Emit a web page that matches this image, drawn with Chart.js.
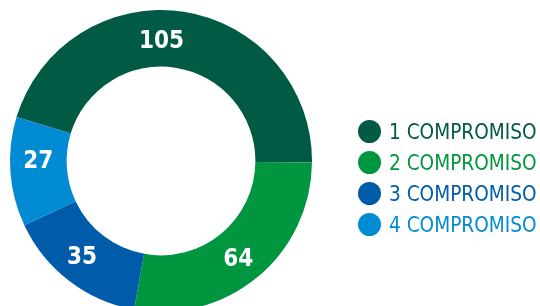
<!DOCTYPE html>
<html>
<head>
<meta charset="utf-8">
<script src="https://cdn.jsdelivr.net/npm/chart.js@4.4.1/dist/chart.umd.min.js"></script>
<style>
  html, body { margin: 0; padding: 0; background: #fff; overflow: hidden; width: 540px; height: 306px; }
  #wrap { position: relative; width: 540px; height: 340px; }
  #legend { position: absolute; left: 358px; top: 119px; margin: 0; padding: 0; list-style: none;
            font-family: "DejaVu Sans Condensed", "Liberation Sans Narrow", Roboto, sans-serif; font-size: 20.6px; }
  #legend li { height: 31px; line-height: 27px; white-space: nowrap; }
  #legend span.dot { display: inline-block; width: 23px; height: 23px; border-radius: 50%; vertical-align: -4px; margin-right: 8px; }
</style>
</head>
<body>
<div id="wrap">
  <canvas id="donut" width="540" height="340"></canvas>
  <ul id="legend"></ul>
</div>
<script>
var labels = ["1 COMPROMISO", "2 COMPROMISO", "3 COMPROMISO", "4 COMPROMISO"];
var values = [105, 64, 35, 27];
var colors = ["#005a44", "#009640", "#005ca9", "#008bd2"];

// value labels drawn on the ring, small angle nudges to match the original placement
var labelNudge = [-8.5, 0.6, 2.5, 5];

var ringLabels = {
	id: "ringLabels",
	afterDatasetsDraw: function(chart) {
		var ctx = chart.ctx;
		var meta = chart.getDatasetMeta(0);
		ctx.save();
		ctx.fillStyle = "#fff";
		ctx.font = "bold 24px 'DejaVu Sans Condensed', 'Liberation Sans Narrow', Roboto, sans-serif";
		ctx.textAlign = "center";
		ctx.textBaseline = "middle";
		meta.data.forEach(function(arc, i) {
			var p = arc.getProps(["x", "y", "startAngle", "endAngle", "innerRadius", "outerRadius"], true);
			var a = (p.startAngle + p.endAngle) / 2 + labelNudge[i] * Math.PI / 180;
			var r = (p.innerRadius + p.outerRadius) / 2;
			ctx.fillText(values[i], p.x + Math.cos(a) * r, p.y + Math.sin(a) * r + 3);
		});
		ctx.restore();
	}
};

new Chart(document.getElementById("donut"), {
	type: "doughnut",
	data: {
		labels: labels,
		datasets: [{
			data: values,
			backgroundColor: colors,
			borderWidth: 0
		}]
	},
	options: {
		responsive: false,
		animation: false,
		rotation: -73.1,
		cutout: "62.5%",
		layout: { padding: { top: 10, left: 10, right: 228, bottom: 28 } },
		plugins: {
			legend: { display: false },
			tooltip: { enabled: false }
		}
	},
	plugins: [ringLabels]
});

var ul = document.getElementById("legend");
labels.forEach(function(l, i) {
	ul.innerHTML += '<li style="color:' + colors[i] + '"><span class="dot" style="background:' + colors[i] + '"></span>' + l + '</li>';
});
</script>
</body>
</html>
